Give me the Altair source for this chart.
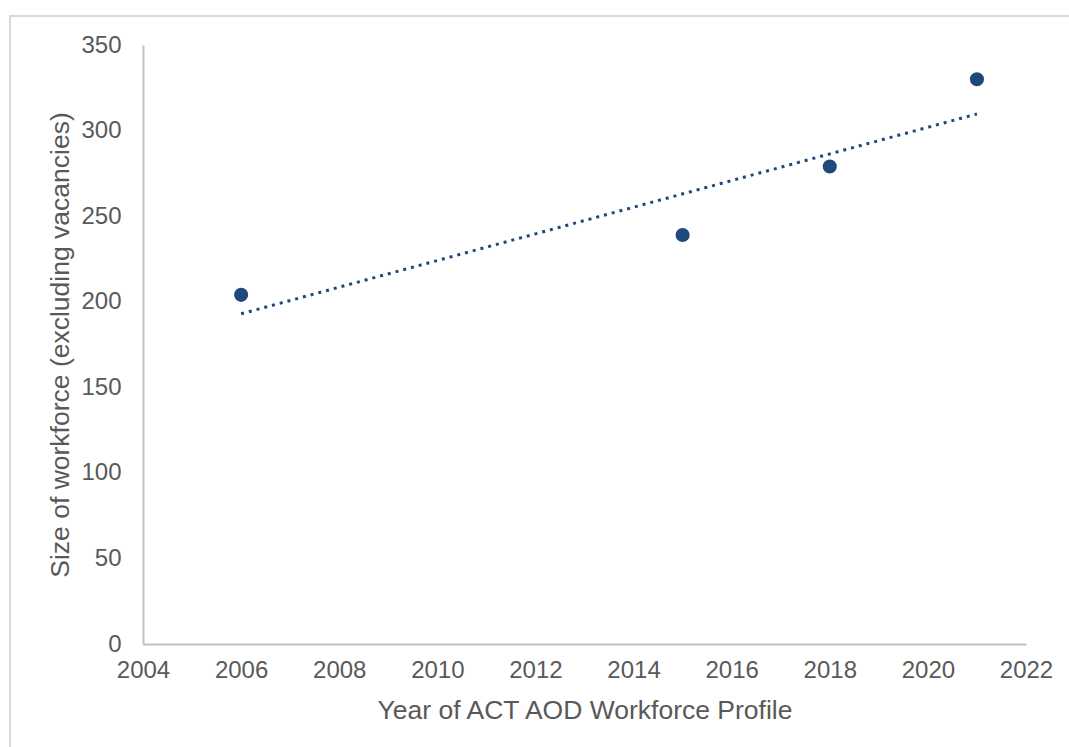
import altair as alt
import pandas as pd

years = [2006, 2015, 2018, 2021]
workforce = [204, 239, 279, 330]

df = pd.DataFrame({"year": years, "size": workforce})

FONT = "Liberation Sans"
BLUE = "#1F497D"
GREY = "#595959"

x_enc = alt.X("year:Q",
              scale=alt.Scale(domain=[2004, 2022], nice=False, zero=False),
              axis=alt.Axis(values=list(range(2004, 2023, 2)), format="d",
                            title="Year of ACT AOD Workforce Profile",
                            grid=False, ticks=False, domainColor="#BFBFBF", domainWidth=2,
                            labelFlush=False, labelOverlap=False,
                            labelFont=FONT, labelFontSize=24, labelColor=GREY, labelPadding=14,
                            titleFont=FONT, titleFontSize=26.5, titleColor=GREY, titleFontWeight="normal",
                            titleX=441.5, titleY=66, titleBaseline="middle"))
y_enc = alt.Y("size:Q",
              scale=alt.Scale(domain=[0, 350], nice=False),
              axis=alt.Axis(values=list(range(0, 351, 50)),
                            title="Size of workforce (excluding vacancies)",
                            grid=False, ticks=False, domainColor="#BFBFBF", domainWidth=2,
                            labelFlush=False, labelOverlap=False,
                            labelFont=FONT, labelFontSize=24, labelColor=GREY, labelPadding=22,
                            titleFont=FONT, titleFontSize=26.5, titleColor=GREY, titleFontWeight="normal",
                            titleX=-83, titleY=299.5, titleAngle=-90, titleBaseline="middle"))

border = alt.Chart(pd.DataFrame({"a": [0]})).mark_rect(
    fill=None, stroke="#D9D9D9", strokeWidth=2
).encode(x=alt.value(-133), x2=alt.value(960), y=alt.value(-29), y2=alt.value(760))

points = alt.Chart(df).mark_circle(size=200, color=BLUE, opacity=1).encode(x=x_enc, y=y_enc)

trend = alt.Chart(df).transform_regression("year", "size").mark_line(
    color=BLUE, strokeWidth=3, strokeDash=[3, 5]
).encode(x=alt.X("year:Q"), y=alt.Y("size:Q"))

chart = alt.layer(border, trend, points).properties(
    width=883, height=599,
    autosize=alt.AutoSizeParams(type="none"),
    padding={"left": 143, "top": 45, "right": 43, "bottom": 103},
).configure(background="white").configure_view(strokeWidth=0, stroke="transparent")

chart.save("out.html", embed_options={"renderer": "svg", "actions": False})
